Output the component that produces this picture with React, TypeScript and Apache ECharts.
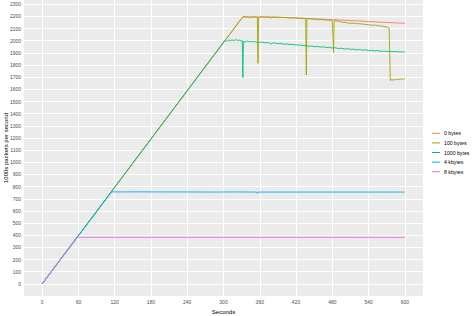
import React, { useEffect, useRef } from "react";
import * as echarts from "echarts";

const seriesNames = ["0 bytes", "100 bytes", "1000 bytes", "4 kbytes", "8 kbytes"];
const seriesColors = ["#F8766D", "#A3A500", "#00BF7D", "#00B0F6", "#E76BF3"];

const xTicks = [0, 60, 120, 180, 240, 300, 360, 420, 480, 540, 600];
const yTicks = [0, 100, 200, 300, 400, 500, 600, 700, 800, 900, 1000, 1100, 1200, 1300, 1400, 1500, 1600, 1700, 1800, 1900, 2000, 2100, 2200, 2300];

const bytes0: [number, number][] = [
  [0, 0], [332, 2197], [345, 2196], [360, 2196], [375, 2195], [390, 2193], [405, 2191], [420, 2187],
  [435, 2184], [450, 2180], [465, 2177], [480, 2174], [495, 2170], [510, 2166], [525, 2162],
  [540, 2158], [555, 2154], [570, 2150], [585, 2147], [600, 2143],
];

const bytes100: [number, number][] = [
  [0, 0], [332, 2197], [336, 2194], [340, 2196], [344, 2188], [346, 2196], [352, 2195], [356, 2193],
  [357, 1814], [358, 2192], [362, 2196], [368, 2194], [375, 2195], [380, 2190], [383, 2195],
  [390, 2193], [398, 2191], [405, 2190], [410, 2186], [412, 2190], [420, 2187], [428, 2185],
  [436, 2182], [437, 1718], [438, 2181], [445, 2179], [452, 2176], [456, 2170], [458, 2176],
  [465, 2172], [472, 2170], [480, 2166], [482, 1901], [483, 2165], [490, 2161], [497, 2152],
  [503, 2150], [508, 2142], [512, 2146], [520, 2141], [528, 2138], [535, 2134], [542, 2130],
  [548, 2127], [552, 2129], [556, 2124], [560, 2122], [565, 2118], [570, 2112], [574, 2104],
  [576, 1672], [578, 1680], [582, 1676], [586, 1684], [590, 1681], [594, 1686], [598, 1684], [600, 1686],
];

const bytes1000: [number, number][] = [
  [0, 0], [302, 2000], [305, 1996], [308, 2004], [311, 1998], [314, 2006], [317, 2001], [320, 2008],
  [323, 2003], [326, 2005], [329, 1998], [331, 2001], [332, 1697], [333, 1995], [336, 1990],
  [339, 1998], [342, 1993], [345, 1996], [348, 1990], [351, 1994], [354, 1988], [357, 1991],
  [360, 1985], [364, 1989], [368, 1983], [372, 1986], [376, 1981], [380, 1972], [382, 1984],
  [386, 1980], [390, 1975], [395, 1978], [400, 1971], [405, 1974], [410, 1968], [415, 1970],
  [420, 1964], [425, 1966], [430, 1960], [435, 1962], [440, 1955], [445, 1957], [450, 1951],
  [455, 1953], [460, 1947], [465, 1950], [470, 1944], [475, 1946], [480, 1940], [485, 1942],
  [490, 1936], [495, 1938], [500, 1932], [505, 1934], [510, 1929], [515, 1931], [520, 1925],
  [525, 1928], [530, 1922], [535, 1925], [540, 1919], [545, 1921], [550, 1916], [555, 1919],
  [560, 1913], [565, 1915], [570, 1911], [575, 1913], [580, 1909], [585, 1911], [590, 1907],
  [595, 1909], [600, 1906],
];

const kbytes4: [number, number][] = [
  [0, 0], [115, 757], [130, 756], [160, 757], [200, 756], [240, 756], [280, 755], [320, 756],
  [355, 755], [356, 745], [357, 755], [400, 755], [450, 755], [500, 755], [550, 755], [600, 755],
];

const kbytes8: [number, number][] = [
  [0, 0], [57, 383], [100, 383], [200, 383], [300, 383], [400, 383], [500, 383], [600, 382],
];

const allData = [bytes0, bytes100, bytes1000, kbytes4, kbytes8];

export default function App() {
  const ref = useRef<HTMLDivElement>(null);
  useEffect(() => {
    if (!ref.current) return;
    const chart = echarts.init(ref.current, null, { renderer: "svg" });
    const font = "Liberation Sans, Arial, sans-serif";
    const gridSeries: any = {
      name: "_grid",
      type: "line",
      data: [],
      z: 1,
      silent: true,
      markLine: {
        silent: true,
        z: 1,
        zlevel: 0,
        symbol: ["none", "none"],
        label: { show: false },
        emphasis: { disabled: true },
        lineStyle: { color: "#FFFFFF", width: 1, type: "solid" },
        data: [
          ...xTicks.map((v) => ({ xAxis: v })),
          ...yTicks.map((v) => ({ yAxis: v })),
        ],
      },
    };
    chart.setOption({
      animation: false,
      backgroundColor: "#FFFFFF",
      textStyle: { fontFamily: font },
      grid: {
        left: 24,
        right: 51,
        top: 0,
        bottom: 20,
        show: true,
        backgroundColor: "#EBEBEB",
        borderWidth: 0,
        containLabel: false,
        outerBoundsMode: "none",
      },
      legend: {
        orient: "vertical",
        left: 432,
        top: 128.5,
        padding: 0,
        itemWidth: 8,
        itemHeight: 1,
        itemGap: 0,
        icon: "rect",
        selectedMode: false,
        data: seriesNames,
        textStyle: { fontSize: 5.2, lineHeight: 9.6, color: "#000000", fontFamily: font, padding: [0, 0, 0, -1] },
      },
      xAxis: {
        type: "value",
        min: -30,
        max: 630,
        interval: 30,
        name: "Seconds",
        nameLocation: "middle",
        nameGap: 13,
        nameMoveOverlap: false,
        nameTextStyle: { fontSize: 6, color: "#000000", fontFamily: font },
        axisLine: { show: false },
        axisTick: { show: true, length: 2, customValues: xTicks, lineStyle: { color: "#333333", width: 0.5 } },
        axisLabel: { customValues: xTicks, fontSize: 5, color: "#4D4D4D", margin: 3, fontFamily: font, formatter: (v: number) => String(v) },
        splitLine: { show: true, lineStyle: { color: "#FFFFFF", width: 0.5 } },
      },
      yAxis: {
        type: "value",
        min: -100,
        max: 2335,
        interval: 50,
        name: "1000s packets per second",
        nameLocation: "middle",
        nameGap: 15,
        nameMoveOverlap: false,
        nameTextStyle: { fontSize: 6, color: "#000000", fontFamily: font },
        axisLine: { show: false },
        axisTick: { show: true, length: 2, customValues: yTicks, lineStyle: { color: "#333333", width: 0.5 } },
        axisLabel: { customValues: yTicks, fontSize: 5, color: "#4D4D4D", margin: 3, fontFamily: font, formatter: (v: number) => String(v) },
        splitLine: { show: true, lineStyle: { color: "#FFFFFF", width: 0.5 } },
      },
      series: [
        gridSeries,
        ...seriesNames.map((name, i) => ({
          name,
          type: "line",
          data: allData[i],
          showSymbol: false,
          symbol: "none",
          z: 2 + i,
          color: seriesColors[i],
          lineStyle: { color: seriesColors[i], width: 0.9 },
          itemStyle: { color: seriesColors[i] },
        })),
      ],
    });
    return () => chart.dispose();
  }, []);
  return <div ref={ref} style={{ position: "fixed", left: 0, top: 0, width: 474, height: 316 }} />;
}
